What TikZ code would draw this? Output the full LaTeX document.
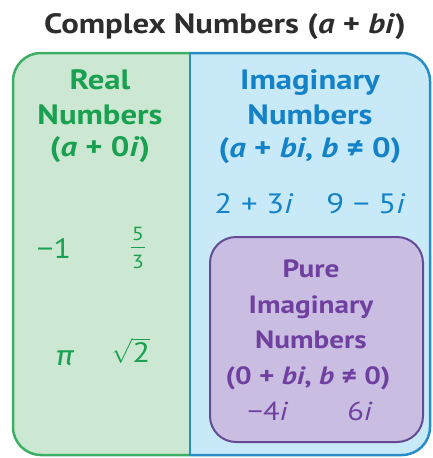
\documentclass[tikz,border=0pt]{standalone}
\usepackage{fontspec}
\setmainfont{PT Sans}[FakeStretch=1.17]
\newfontfamily\grk{Fira Sans}[FakeStretch=1.1]
\definecolor{titlec}{RGB}{45,45,45}
\definecolor{gtext}{RGB}{25,160,80}
\definecolor{gfill}{RGB}{205,232,210}
\definecolor{gline}{RGB}{60,175,100}
\definecolor{btext}{RGB}{20,130,200}
\definecolor{bfill}{RGB}{200,233,248}
\definecolor{bline}{RGB}{40,140,200}
\definecolor{ptext}{RGB}{112,64,160}
\definecolor{pfill}{RGB}{201,190,226}
\definecolor{pline}{RGB}{100,75,150}
\tikzset{
  hd/.style={font=\fontsize{28}{32}\selectfont\bfseries, inner sep=0pt, anchor=base},
  phd/.style={font=\fontsize{25}{29}\selectfont\bfseries, inner sep=0pt, anchor=base},
  num/.style={font=\fontsize{28}{32}\selectfont, inner sep=0pt, anchor=base},
  pnum/.style={font=\fontsize{26}{30}\selectfont, inner sep=0pt, anchor=base},
  frac/.style={font=\fontsize{19}{22}\selectfont, inner sep=0pt, anchor=base},
}
\begin{document}
\begin{tikzpicture}[x=1pt,y=-1pt]
\useasboundingbox (0,0) rectangle (433,458);
% regions
\begin{scope}
\clip (0,0) rectangle (189,458);
\fill[gfill, rounded corners=28] (13,53) rectangle (430,455);
\draw[gline, line width=2.5, rounded corners=28] (13,53) rectangle (430,455);
\end{scope}
\begin{scope}
\clip (189,0) rectangle (433,458);
\fill[bfill, rounded corners=28] (13,53) rectangle (430,455);
\draw[bline, line width=2.5, rounded corners=28] (13,53) rectangle (430,455);
\end{scope}
\draw[bline, line width=2.5] (190,53) -- (190,455);
% purple box
\draw[pline, fill=pfill, line width=2, rounded corners=26] (210,237) rectangle (423,442);
% title
\node[hd, text=titlec] (title) at (225,33) {Complex Numbers (\textit{a} + \textit{bi})};
% real
\node[hd, text=gtext] (real) at (100,89) {Real};
\node[hd, text=gtext] (realn) at (100,124) {Numbers};
\node[hd, text=gtext] (reale) at (100,156) {(\textit{a} + 0\textit{i})};
\node[num, text=gtext] (m1) at (54,258) {−1};
\node[frac, text=gtext] (f5) at (138,240) {5};
\node[frac, text=gtext] (f3) at (138,268) {3};
\coordinate (fl) at (131,247.5);
\coordinate (fr) at (145,247.5);
\draw[gtext, line width=1] (fl) -- (fr);
\node[num, text=gtext] (pi) at (65,365) {\grk\itshape π};
\node[num, text=gtext] (sq2) at (131,362) {$\sqrt{\hbox{2}}$};
% imaginary
\node[hd, text=btext] (imag) at (310,89) {Imaginary};
\node[hd, text=btext] (imagn) at (310,124) {Numbers};
\node[hd, text=btext] (image) at (310,157) {(\textit{a} + \textit{bi}, \textit{b} ≠ 0)};
\node[num, text=btext] (ex1) at (254,213) {2 + 3\textit{i}};
\node[num, text=btext] (ex2) at (366,213) {9 − 5\textit{i}};
% pure imaginary
\node[phd, text=ptext] (pure) at (311,277) {Pure};
\node[phd, text=ptext] (purei) at (311,313) {Imaginary};
\node[phd, text=ptext] (puren) at (311,348) {Numbers};
\node[phd, text=ptext] (puree) at (308,384) {(0 + \textit{bi}, \textit{b} ≠ 0)};
\node[pnum, text=ptext] (ex3) at (268,420) {−4\textit{i}};
\node[pnum, text=ptext] (ex4) at (360,420) {6\textit{i}};
\end{tikzpicture}
\end{document}
